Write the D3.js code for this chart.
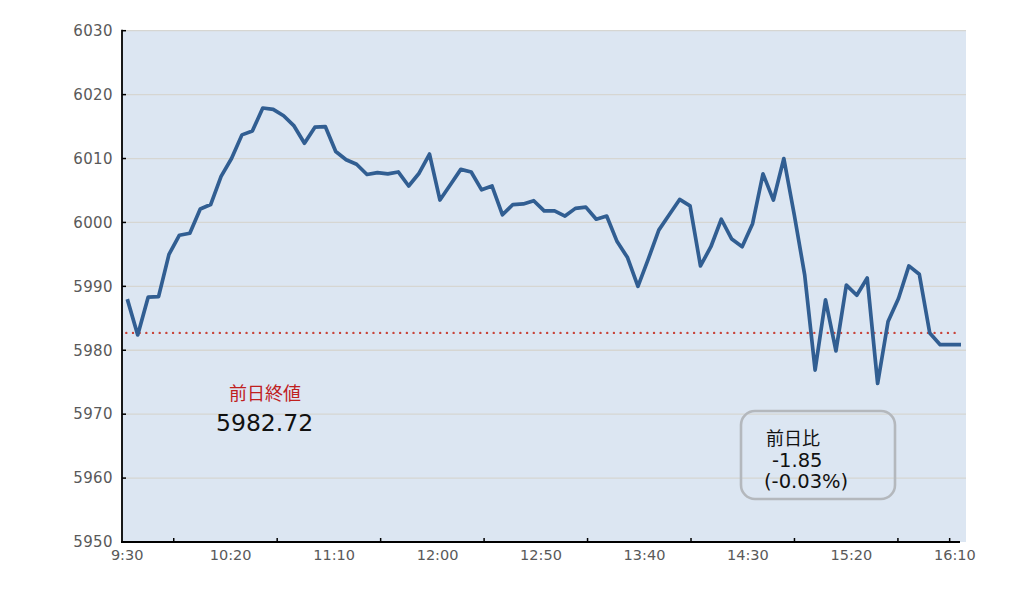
<!DOCTYPE html>
<html><head><meta charset="utf-8">
<script src="https://cdn.jsdelivr.net/npm/d3@7"></script>
<style>
html,body{margin:0;padding:0;background:#fff;}
svg{display:block;font-family:"DejaVu Sans","Noto Sans CJK JP",sans-serif;}
</style></head>
<body>
<svg id="chart" width="1030" height="596"></svg>
<script>
const times = ["9:30","9:35","9:40","9:45","9:50","9:55","10:00","10:05","10:10","10:15",
"10:20","10:25","10:30","10:35","10:40","10:45","10:50","10:55","11:00","11:05",
"11:10","11:15","11:20","11:25","11:30","11:35","11:40","11:45","11:50","11:55",
"12:00","12:05","12:10","12:15","12:20","12:25","12:30","12:35","12:40","12:45",
"12:50","12:55","13:00","13:05","13:10","13:15","13:20","13:25","13:30","13:35",
"13:40","13:45","13:50","13:55","14:00","14:05","14:10","14:15","14:20","14:25",
"14:30","14:35","14:40","14:45","14:50","14:55","15:00","15:05","15:10","15:15",
"15:20","15:25","15:30","15:35","15:40","15:45","15:50","15:55","16:00","16:05","16:10"];
const prices = [5988.0,5982.4,5988.3,5988.4,5995.0,5998.0,5998.3,6002.1,6002.8,6007.2,
6010.0,6013.7,6014.3,6017.9,6017.7,6016.7,6015.1,6012.4,6014.9,6015.0,
6011.1,6009.8,6009.1,6007.5,6007.8,6007.6,6007.9,6005.7,6007.7,6010.7,
6003.5,6005.9,6008.3,6007.9,6005.1,6005.7,6001.2,6002.8,6002.9,6003.4,
6001.8,6001.8,6001.0,6002.2,6002.4,6000.5,6001.0,5997.0,5994.5,5990.0,
5994.3,5998.8,6001.2,6003.6,6002.6,5993.2,5996.2,6000.5,5997.4,5996.2,
5999.8,6007.6,6003.5,6010.0,6001.2,5991.8,5976.9,5987.9,5979.9,5990.2,
5988.6,5991.3,5974.8,5984.5,5988.1,5993.2,5991.9,5982.7,5980.87,5980.87,5980.87];
const prevClose = 5982.72;
const yTicks = [5950,5960,5970,5980,5990,6000,6010,6020,6030];
const xLabels = ["9:30","10:20","11:10","12:00","12:50","13:40","14:30","15:20","16:10"];
const xTickAfter = ["9:50","10:40","11:30","12:20","13:10","14:00","14:50","15:40","16:05"];
const prevLabel = "前日終値";
const prevValueText = "5982.72";
const diffTitle = "前日比";
const diffValue = "-1.85";
const diffPct = "(-0.03%)";

const svg = d3.select("#chart");
const L = 122, R = 966, T = 30.7, B = 542;
const LATIN = "'DejaVu Sans','Noto Sans CJK JP',sans-serif";
const CJK = "'Noto Sans CJK JP',sans-serif";

const y = d3.scaleLinear().domain([5950, 6030]).range([B, T]);
const xBand = d3.scaleBand().domain(times).range([L, 960]);
const xPt = d3.scalePoint().domain(times).range([127.3, 961]);

// plot background
svg.append("rect").attr("x", L).attr("y", T).attr("width", R - L).attr("height", B - T).attr("fill", "#dce6f2");

// gridlines
svg.append("g").selectAll("line").data(yTicks.slice(1)).join("line")
  .attr("x1", L).attr("x2", R).attr("y1", d => y(d)).attr("y2", d => y(d))
  .attr("stroke", "#d6d6d2").attr("stroke-width", 1.3);

// prev close dotted line
svg.append("line")
  .attr("x1", xPt(times[0]) - 1).attr("x2", xPt(times[times.length - 1]))
  .attr("y1", y(prevClose)).attr("y2", y(prevClose))
  .attr("stroke", "#c8443a").attr("stroke-width", 2.4)
  .attr("stroke-dasharray", "0.01 6.67").attr("stroke-linecap", "round");

// price line
const line = d3.line().x((d, i) => xPt(times[i])).y(d => y(d));
svg.append("path").datum(prices).attr("d", line)
  .attr("fill", "none").attr("stroke", "#315e92").attr("stroke-width", 3.7)
  .attr("stroke-linejoin", "round");

// y axis
const yAxis = d3.axisLeft(y).tickValues(yTicks).tickSize(0).tickPadding(9).tickFormat(d3.format("d"));
const gy = svg.append("g").attr("transform", `translate(${L},0)`).call(yAxis);
gy.select(".domain").remove();
gy.selectAll("text").attr("fill", "#595959").style("font-size", "15px").style("letter-spacing", "0.4px")
  .style("font-family", LATIN);
svg.append("g").selectAll("line").data(yTicks).join("line")
  .attr("x1", L).attr("x2", L + 4).attr("y1", d => y(d)).attr("y2", d => y(d))
  .attr("stroke", "#000").attr("stroke-width", 1.5);
svg.append("line").attr("x1", L).attr("x2", L).attr("y1", T - 1).attr("y2", B)
  .attr("stroke", "#000").attr("stroke-width", 1.8);

// x axis labels
const xAxis = d3.axisBottom(xBand).tickValues(xLabels).tickSize(0).tickPadding(8);
const gx = svg.append("g").attr("transform", `translate(0,${B})`).call(xAxis);
gx.select(".domain").remove();
gx.selectAll("text").attr("fill", "#595959").style("font-size", "14.5px")
  .style("font-family", LATIN);
// x tick marks (between categories)
svg.append("g").selectAll("line").data(xTickAfter).join("line")
  .attr("x1", d => xBand(d) + xBand.bandwidth()).attr("x2", d => xBand(d) + xBand.bandwidth())
  .attr("y1", B).attr("y2", B - 4).attr("stroke", "#000").attr("stroke-width", 1.5);
svg.append("line").attr("x1", L - 1).attr("x2", 960).attr("y1", B).attr("y2", B)
  .attr("stroke", "#000").attr("stroke-width", 1.8);

// previous close annotation
svg.append("text").attr("x", 229).attr("y", 400)
  .attr("fill", "#c0201e").style("font-size", "18px").style("font-family", CJK).text(prevLabel);
svg.append("text").attr("x", 216).attr("y", 431)
  .attr("fill", "#111").style("font-size", "23.5px").style("font-family", LATIN).text(prevValueText);

// diff box
svg.append("rect").attr("x", 741).attr("y", 411).attr("width", 154).attr("height", 88)
  .attr("rx", 14).attr("fill", "none").attr("stroke", "#b4b8bd").attr("stroke-width", 2.6);
svg.append("text").attr("x", 766).attr("y", 445).attr("fill", "#111")
  .style("font-size", "18px").style("font-family", CJK).text(diffTitle);
svg.append("text").attr("x", 772).attr("y", 467).attr("fill", "#111")
  .style("font-size", "19.5px").style("font-family", LATIN).text(diffValue);
svg.append("text").attr("x", 764).attr("y", 488).attr("fill", "#111")
  .style("font-size", "19.5px").style("font-family", LATIN).text(diffPct);
</script>
</body></html>
